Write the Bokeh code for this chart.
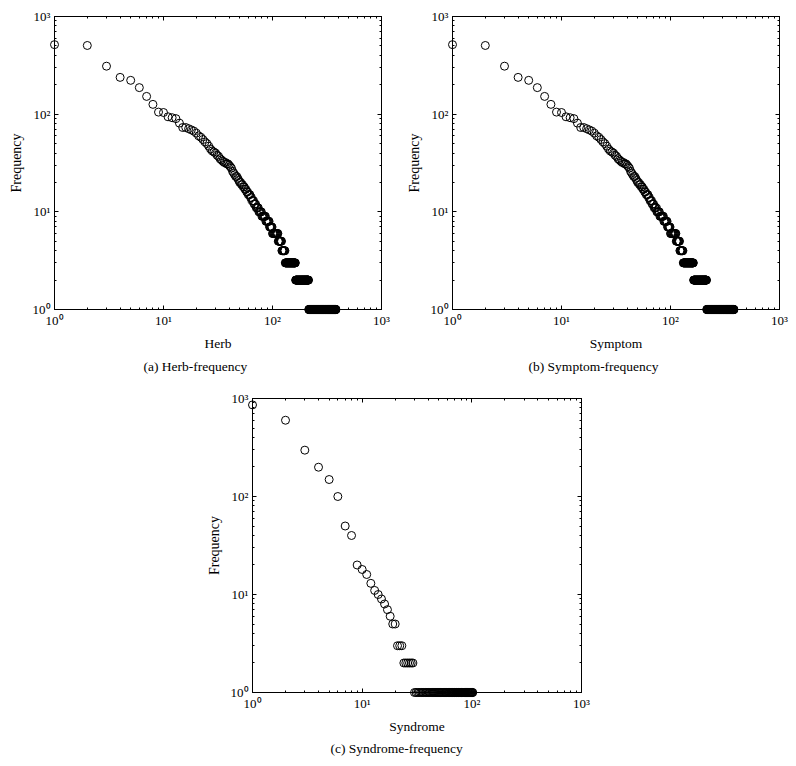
import numpy as np
from bokeh.plotting import figure
from bokeh.models import Range1d, FixedTicker, LogAxis, Title, ColumnDataSource, CustomJSTickFormatter
from bokeh.layouts import column, row
from bokeh.embed import file_html
from bokeh.resources import INLINE

# ---- data: frequency values in rank order, with how many items share each value ----
herb_freq = [515, 505, 310, 238, 222, 187, 152, 126, 105, 104, 94, 92, 90, 81, 73, 73, 71, 69, 67, 64,
             60, 58, 55, 52, 50, 47, 44, 42, 41, 40, 38, 37, 35, 34, 33, 32, 31, 30, 29, 28, 26, 25, 24,
             23, 22, 21, 20, 19, 18, 17, 16, 15, 14, 13, 12, 11, 10, 9, 8, 7, 6, 5, 4, 3, 2, 1]
herb_count = [1] * 35 + [2, 2, 1, 1, 1, 1, 1, 1, 2, 1, 1, 2, 2, 2, 2, 2, 3, 2, 3, 3, 4, 5, 7, 7, 6,
                         13, 9, 9, 32, 52, 168]

symptom_freq = [515, 505, 310, 238, 222, 187, 152, 126, 105, 104, 94, 92, 90, 81, 73, 73, 71, 69, 67, 64,
                60, 58, 55, 52, 50, 47, 44, 42, 41, 40, 38, 37, 35, 34, 33, 32, 31, 30, 29, 28, 26, 25, 24,
                23, 22, 21, 20, 19, 18, 17, 16, 15, 14, 13, 12, 11, 10, 9, 8, 7, 6, 5, 4, 3, 2, 1]
symptom_count = [1] * 35 + [2, 2, 1, 1, 1, 1, 1, 1, 2, 1, 1, 2, 2, 2, 2, 2, 3, 2, 3, 3, 4, 5, 7, 7, 6,
                            13, 9, 9, 32, 52, 168]

syndrome_freq = [860, 600, 297, 199, 149, 100, 50, 40, 20, 18, 16, 13, 11, 10, 9, 8, 7, 6, 5, 3, 2, 1]
syndrome_count = [1] * 18 + [2, 3, 6, 73]

decade_ticks = [1, 10, 100, 1000]
tick_labels = ["10\u2070", "10\u00b9", "10\u00b2", "10\u00b3"]
minor_ticks = [m * 10 ** k for k in range(3) for m in range(2, 10)]

FONT = "Liberation Serif"


def expand(freq, count):
    y = np.repeat(np.array(freq, dtype=float), count)
    x = np.arange(1, len(y) + 1, dtype=float)
    return x, y


def style_axis(ax, labels=True, label_size="13.5px"):
    ax.ticker = FixedTicker(ticks=decade_ticks, minor_ticks=minor_ticks)
    ax.axis_line_color = "black"
    ax.major_tick_line_color = "black"
    ax.minor_tick_line_color = "black"
    ax.major_tick_in = 4
    ax.major_tick_out = 0
    ax.minor_tick_in = 2
    ax.minor_tick_out = 0
    if labels:
        ax.formatter = CustomJSTickFormatter(
            args=dict(tk=decade_ticks, lb=tick_labels),
            code="""
            for (let i = 0; i < tk.length; i++) {
                if (Math.abs(tk[i] - tick) < 1e-9 * tk[i]) { return lb[i]; }
            }
            return '';
            """)
        ax.major_label_text_font = FONT
        ax.major_label_text_font_size = "13px"
        ax.major_label_text_color = "black"
        ax.axis_label_text_font = FONT
        ax.axis_label_text_font_size = label_size
        ax.axis_label_text_font_style = "normal"
        ax.axis_label_text_color = "black"
    else:
        ax.major_label_text_font_size = "1px"
        ax.major_label_text_alpha = 0
        ax.major_label_standoff = 0


def make_panel(freq, count, xlabel, caption, width, height, bl, br, bt, bb, cap_offset, cap_standoff):
    p = figure(width=width, height=height, x_axis_type="log", y_axis_type="log",
               x_range=Range1d(1, 1000), y_range=Range1d(1, 1000),
               output_backend="svg", toolbar_location=None,
               min_border_left=bl, min_border_right=br, min_border_top=bt, min_border_bottom=bb)
    p.xgrid.visible = False
    p.ygrid.visible = False
    p.outline_line_color = "black"
    p.outline_line_width = 1
    p.background_fill_color = "white"
    p.border_fill_color = "white"
    xa = p.xaxis[0]
    ya = p.yaxis[0]
    style_axis(xa, label_size="13.5px")
    style_axis(ya, label_size="14px")
    xa.axis_label = xlabel
    ya.axis_label = "Frequency"
    xa.major_label_standoff = 3
    ya.major_label_standoff = 4
    xa.axis_label_standoff = 5
    ya.axis_label_standoff = 6
    top = LogAxis()
    style_axis(top, labels=False)
    p.add_layout(top, "above")
    right = LogAxis()
    style_axis(right, labels=False)
    p.add_layout(right, "right")
    x, y = expand(freq, count)
    src = ColumnDataSource(dict(x=x, y=y))
    p.scatter("x", "y", source=src, marker="circle", size=8, fill_color=None,
              line_color="black", line_width=1, level="overlay")
    t = Title(text=caption, align="left", offset=cap_offset, text_font=FONT,
              text_font_size="13.5px", text_font_style="normal", text_color="black",
              standoff=cap_standoff)
    p.add_layout(t, "below")
    return p


pa = make_panel(herb_freq, herb_count, "Herb", "(a)  Herb-frequency",
                400, 381, 54, 19, 16, 72, 89, 7)
pb = make_panel(symptom_freq, symptom_count, "Symptom", "(b)  Symptom-frequency",
                389, 381, 52, 10, 16, 72, 76, 7)
pc = make_panel(syndrome_freq, syndrome_count, "Syndrome", "(c)  Syndrome-frequency",
                596, 377, 252, 15, 17, 66, 78, 4)

layout = column(row(pa, pb), pc)
open("out.html", "w").write(file_html(layout, INLINE))
